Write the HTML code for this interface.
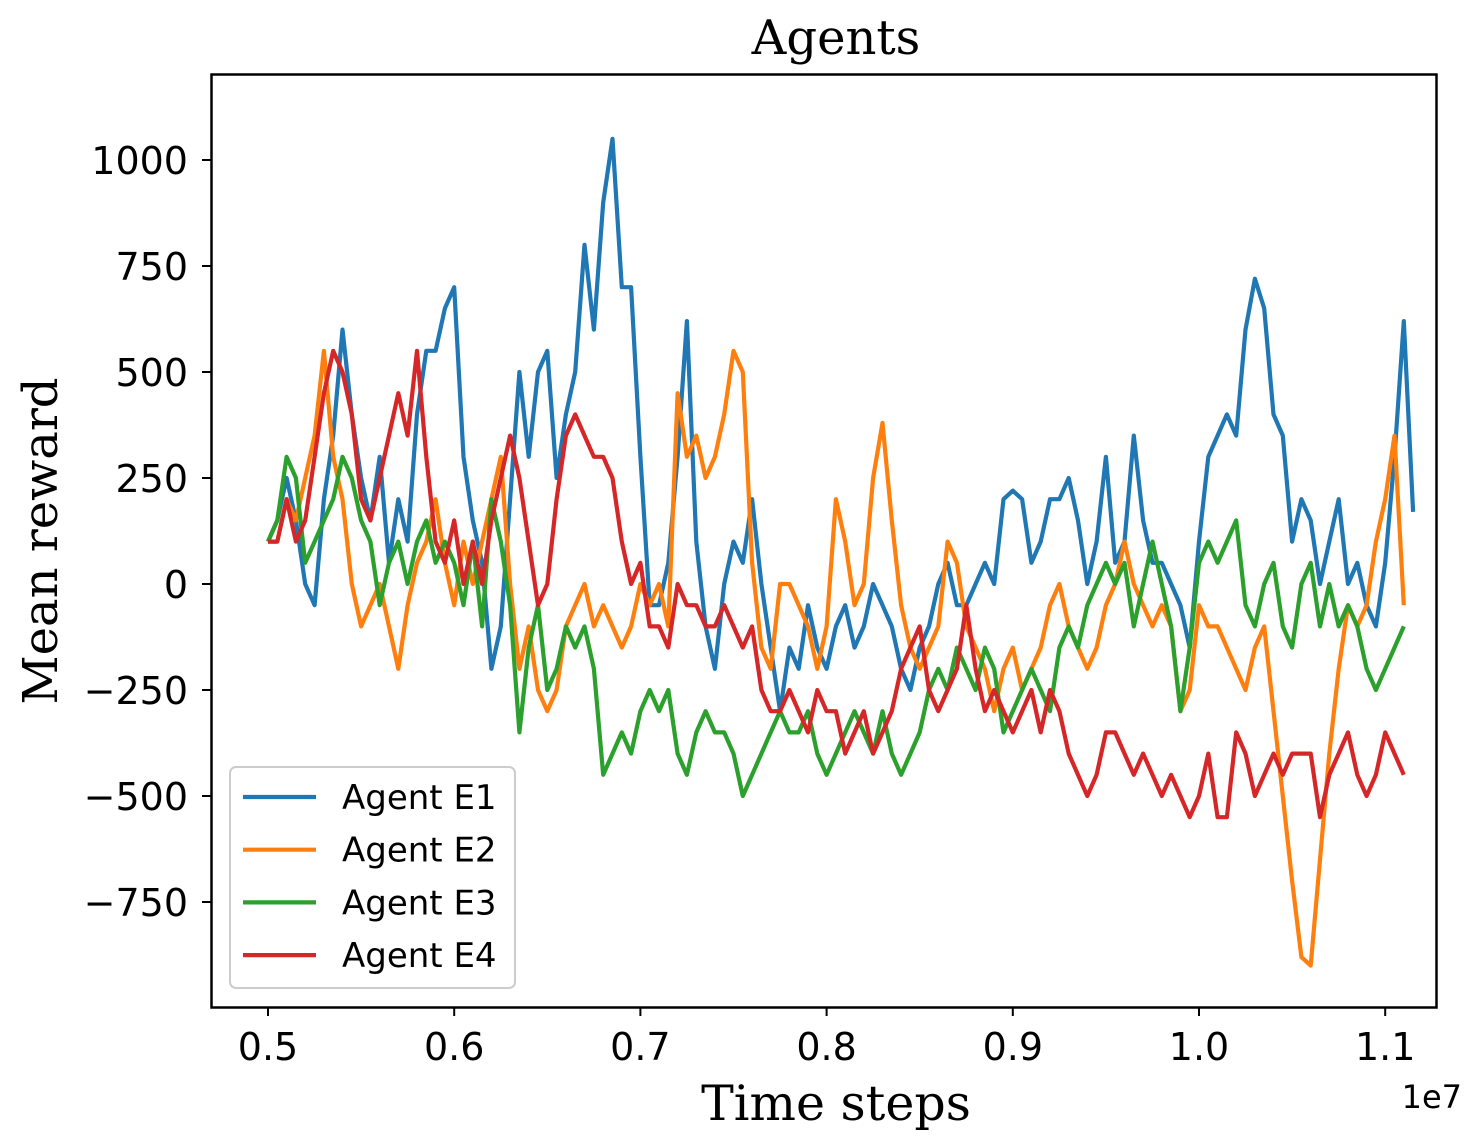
<!DOCTYPE html>
<html><head><meta charset="utf-8"><style>
html,body{margin:0;padding:0;background:#fff;}
svg{display:block;}
</style></head><body>
<svg id="chart" width="1476" height="1146" viewBox="0 0 1476 1146" xmlns="http://www.w3.org/2000/svg">
<text x="836" y="54" text-anchor="middle" font-family="'DejaVu Serif','Liberation Serif',serif" font-size="48">Agents</text>
<g id="plot"></g>
<rect x="211.5" y="74.5" width="1225" height="933" fill="none" stroke="#000" stroke-width="2.5"/>
<text x="836" y="1120" text-anchor="middle" font-family="'DejaVu Serif','Liberation Serif',serif" font-size="49">Time steps</text>
<text x="1462" y="1108" text-anchor="end" font-family="'DejaVu Sans','Liberation Sans',sans-serif" font-size="32">1e7</text>
<text transform="translate(57,541) rotate(-90)" text-anchor="middle" font-family="'DejaVu Serif','Liberation Serif',serif" font-size="48">Mean reward</text>
<g id="legend">
<rect x="230" y="767" width="285" height="221" rx="6" fill="#fff" fill-opacity="0.8" stroke="#ccc" stroke-width="2"/>
</g>
</svg>
<script>
const xTicks=[0.5,0.6,0.7,0.8,0.9,1.0,1.1];
const xTickLabels=["0.5","0.6","0.7","0.8","0.9","1.0","1.1"];
const yTicks=[1000,750,500,250,0,-250,-500,-750];
const yTickLabels=["1000","750","500","250","0","\u2212250","\u2212500","\u2212750"];
const seriesNames=["Agent E1","Agent E2","Agent E3","Agent E4"];
const seriesColors=["#1f77b4","#ff7f0e","#2ca02c","#d62728"];
const tStart=0.5, tStep=0.005;
const e1=[100,150,250,150,0,-50,200,350,600,400,250,150,300,50,200,100,400,550,550,650,700,300,150,50,-200,-100,200,500,300,500,550,250,400,500,800,600,900,1050,700,700,300,-50,-50,50,300,620,100,-100,-200,0,100,50,200,0,-150,-300,-150,-200,-50,-150,-200,-100,-50,-150,-100,0,-50,-100,-200,-250,-150,-100,0,50,-50,-50,0,50,0,200,220,200,50,100,200,200,250,150,0,100,300,50,100,350,150,50,50,0,-50,-150,100,300,350,400,350,600,720,650,400,350,100,200,150,0,100,200,0,50,-50,-100,50,300,620,170];
const e2=[100,100,200,150,250,350,550,300,200,0,-100,-50,0,-100,-200,-50,50,100,200,50,-50,100,0,100,200,300,0,-200,-100,-250,-300,-250,-100,-50,0,-100,-50,-100,-150,-100,0,-50,0,-100,450,300,350,250,300,400,550,500,50,-150,-200,0,0,-50,-100,-200,-100,200,100,-50,0,250,380,150,-50,-150,-200,-150,-100,100,50,-100,-150,-200,-300,-200,-150,-250,-200,-150,-50,0,-100,-150,-200,-150,-50,0,100,0,-50,-100,-50,-100,-300,-250,-50,-100,-100,-150,-200,-250,-150,-100,-300,-500,-700,-880,-900,-650,-400,-200,-50,-100,-50,100,200,350,-50];
const e3=[100,150,300,250,50,100,150,200,300,250,150,100,-50,50,100,0,100,150,50,100,50,-50,100,-100,200,100,-50,-350,-150,-50,-250,-200,-100,-150,-100,-200,-450,-400,-350,-400,-300,-250,-300,-250,-400,-450,-350,-300,-350,-350,-400,-500,-450,-400,-350,-300,-350,-350,-300,-400,-450,-400,-350,-300,-350,-400,-300,-400,-450,-400,-350,-250,-200,-250,-150,-200,-250,-150,-200,-350,-300,-250,-200,-250,-300,-150,-100,-150,-50,0,50,0,50,-100,0,100,0,-100,-300,-150,50,100,50,100,150,-50,-100,0,50,-100,-150,0,50,-100,0,-100,-50,-100,-200,-250,-200,-150,-100];
const e4=[100,100,200,100,150,300,450,550,500,400,200,150,250,350,450,350,550,300,100,50,150,0,100,0,150,250,350,250,100,-50,0,200,350,400,350,300,300,250,100,0,50,-100,-100,-150,0,-50,-50,-100,-100,-50,-100,-150,-100,-250,-300,-300,-250,-300,-350,-250,-300,-300,-400,-350,-300,-400,-350,-300,-200,-150,-100,-250,-300,-250,-200,-50,-200,-300,-250,-300,-350,-300,-250,-350,-250,-300,-400,-450,-500,-450,-350,-350,-400,-450,-400,-450,-500,-450,-500,-550,-500,-400,-550,-550,-350,-400,-500,-450,-400,-450,-400,-400,-400,-550,-450,-400,-350,-450,-500,-450,-350,-400,-450];
const seriesValues=[e1,e2,e3,e4];

const NS="http://www.w3.org/2000/svg";
function xScale(t){return 268+(t-0.5)*1862;}
function yScale(v){return 584-v*106/250;}
const plot=document.getElementById('plot');
const svg=document.getElementById('chart');
const font="'DejaVu Sans','Liberation Sans',sans-serif";
xTicks.forEach((t,i)=>{
  const x=xScale(t);
  const l=document.createElementNS(NS,'line');
  
  
  l.setAttribute('x1',x);l.setAttribute('x2',x);l.setAttribute('y1',1007);l.setAttribute('y2',1016);
  l.setAttribute('stroke','#000');l.setAttribute('stroke-width','2');
  svg.appendChild(l);
  const tx=document.createElementNS(NS,'text');
  
  
  tx.setAttribute('x',x);tx.setAttribute('y',1060);tx.setAttribute('text-anchor','middle');
  tx.setAttribute('font-family',font);tx.setAttribute('font-size','38');
  tx.textContent=xTickLabels[i];
  svg.appendChild(tx);
});
yTicks.forEach((v,i)=>{
  const y=yScale(v);
  const l=document.createElementNS(NS,'line');
  
  
  l.setAttribute('x1',202);l.setAttribute('x2',211);l.setAttribute('y1',y);l.setAttribute('y2',y);
  l.setAttribute('stroke','#000');l.setAttribute('stroke-width','2');
  svg.appendChild(l);
  const tx=document.createElementNS(NS,'text');
  
  
  tx.setAttribute('x',188);tx.setAttribute('y',y+14);tx.setAttribute('text-anchor','end');
  tx.setAttribute('font-family',font);tx.setAttribute('font-size','38');
  tx.textContent=yTickLabels[i];
  svg.appendChild(tx);
});
seriesValues.forEach((vals,s)=>{
  const pts=vals.map((v,i)=>xScale(tStart+i*tStep).toFixed(1)+','+yScale(v).toFixed(1)).join(' ');
  const p=document.createElementNS(NS,'polyline');
  
  
  p.setAttribute('points',pts);p.setAttribute('fill','none');
  p.setAttribute('stroke',seriesColors[s]);p.setAttribute('stroke-width','4.2');
  p.setAttribute('stroke-linejoin','round');
  plot.appendChild(p);
});
const legend=document.getElementById('legend');
seriesNames.forEach((n,i)=>{
  const y=797+i*52.7;
  const l=document.createElementNS(NS,'line');
  
  
  l.setAttribute('x1',243);l.setAttribute('x2',316);l.setAttribute('y1',y);l.setAttribute('y2',y);
  l.setAttribute('stroke',seriesColors[i]);l.setAttribute('stroke-width','4.2');
  legend.appendChild(l);
  const tx=document.createElementNS(NS,'text');
  
  
  tx.setAttribute('x',342);tx.setAttribute('y',y+12);
  tx.setAttribute('font-family',font);tx.setAttribute('font-size','34');
  tx.textContent=n;
  legend.appendChild(tx);
});
</script>
</body></html>
